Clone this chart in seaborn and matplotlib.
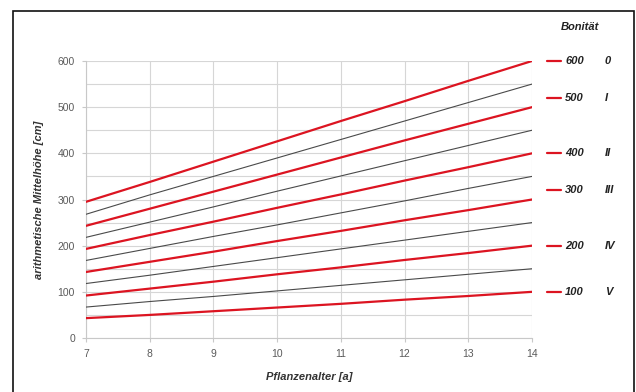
import matplotlib
matplotlib.use("Agg")
import matplotlib.pyplot as plt
from matplotlib.patches import Rectangle
from matplotlib.lines import Line2D
import seaborn as sns
import pandas as pd

sns.set_theme(style="white")
plt.rcParams['font.family'] = ['Liberation Sans', 'DejaVu Sans']

# ---- data ----
ages = [7, 8, 9, 10, 11, 12, 13, 14]
h600 = [295, 338, 382, 426, 470, 513, 557, 600]
h550 = [268, 310, 350, 390, 430, 470, 510, 550]
h500 = [243, 280, 317, 354, 391, 428, 464, 500]
h450 = [218, 251, 284, 318, 351, 384, 417, 450]
h400 = [193, 223, 252, 282, 311, 341, 370, 400]
h350 = [168, 194, 220, 245, 271, 297, 324, 350]
h300 = [143, 165, 187, 210, 232, 255, 277, 300]
h250 = [118, 136, 155, 174, 193, 212, 231, 250]
h200 = [92, 107, 122, 138, 153, 169, 184, 200]
h150 = [67, 79, 90, 102, 114, 126, 138, 150]
h100 = [43, 50, 58, 66, 74, 83, 91, 100]

main_names = ["600", "500", "400", "300", "200", "100"]
inter_names = ["550", "450", "350", "250", "150"]
bonitaet = ["0", "I", "II", "III", "IV", "V"]
label_y = [600, 520, 400, 320, 200, 100]

series = {"600": h600, "550": h550, "500": h500, "450": h450, "400": h400,
          "350": h350, "300": h300, "250": h250, "200": h200, "150": h150,
          "100": h100}

rows = []
for name, vals in series.items():
    for a, v in zip(ages, vals):
        rows.append({"Alter": a, "Hoehe": v, "Kurve": name})
df = pd.DataFrame(rows)

red = "#dc1421"
gray = "#4a4a4a"
palette = {n: (red if n in main_names else gray) for n in series}
widths = {n: (1.6 if n in main_names else 0.8) for n in series}

fig = plt.figure(figsize=(6.36, 3.92), dpi=100)
W, H = 636, 392
ax = fig.add_axes([86 / W, 1 - 338 / H, (532 - 86) / W, (338 - 61) / H])

for name in series:
    sns.lineplot(data=df[df["Kurve"] == name], x="Alter", y="Hoehe",
                 color=palette[name], linewidth=widths[name], ax=ax,
                 legend=False, zorder=3)

ax.set_xlim(7, 14)
ax.set_ylim(0, 600)
ax.set_xticks(range(7, 15))
ax.set_yticks(range(0, 601, 100))
ax.set_yticks(range(50, 600, 100), minor=True)
ax.grid(True, which="both", color="#d6d6d6", linewidth=0.8)
ax.set_axisbelow(True)
for s in ["top", "right"]:
    ax.spines[s].set_visible(False)
for s in ["left", "bottom"]:
    ax.spines[s].set_color("#c8c8c8")
    ax.spines[s].set_linewidth(0.8)
ax.tick_params(axis="both", which="major", labelsize=7.5, colors="#c8c8c8",
               labelcolor="#5a5a5a", length=3, width=0.8, pad=5,
               left=True, bottom=True)
ax.tick_params(axis="y", which="minor", length=0, left=False)

ax.set_xlabel("Pflanzenalter [a]", fontsize=8, fontweight="bold",
              fontstyle="italic", color="#333333", labelpad=9)
ax.set_ylabel("arithmetische Mittelhöhe [cm]", fontsize=8, fontweight="bold",
              fontstyle="italic", color="#333333", labelpad=10)

# right-hand Bonität labels
tr = ax.get_yaxis_transform()
x0 = (547 - 86) / 446
x1 = (561 - 86) / 446
xt = (565 - 86) / 446
xr = (605 - 86) / 446
for nm, bn, yy in zip(main_names, bonitaet, label_y):
    ax.add_line(Line2D([x0, x1], [yy, yy], transform=tr, color=red,
                       linewidth=1.6, clip_on=False))
    ax.text(xt, yy, nm, transform=tr, fontsize=8, fontweight="bold",
            fontstyle="italic", color="#222222", va="center", ha="left",
            clip_on=False)
    ax.text(xr, yy, bn, transform=tr, fontsize=8, fontweight="bold",
            fontstyle="italic", color="#222222", va="center", ha="left",
            clip_on=False)

fig.text(580 / W, 1 - 27 / H, "Bonität", fontsize=8, fontweight="bold",
         fontstyle="italic", color="#222222", ha="center", va="center")

# outer frame
fig.patches.append(Rectangle((13 / W, -0.05), (634 - 13) / W, 1.05 - 11 / H,
                             transform=fig.transFigure, fill=False,
                             edgecolor="#111111", linewidth=1.2))

fig.savefig("out.png", dpi=100)
